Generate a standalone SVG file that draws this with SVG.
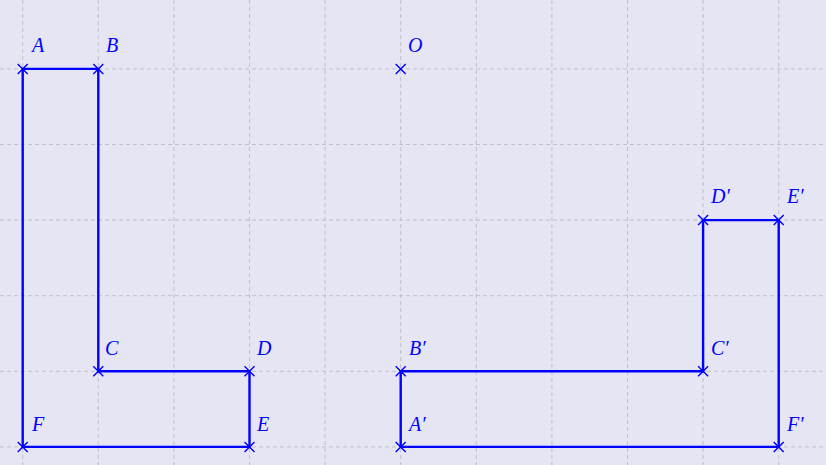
<svg xmlns="http://www.w3.org/2000/svg" width="826" height="465" viewBox="0 0 826 465">
<defs>
<style>
.grid{stroke:#c0c0c8;stroke-width:1;stroke-dasharray:4 3;fill:none}
.shape{stroke:#0000ff;stroke-width:2.4;fill:none;stroke-linejoin:miter}
.cross{stroke:#0000ff;stroke-width:1.4;fill:none}
.lbl{font-family:"Liberation Serif","DejaVu Serif",serif;font-style:italic;font-size:20px;fill:#0000ff}
</style>
<g id="x"><path class="cross" d="M-5,-5L5,5M-5,5L5,-5"/></g>
</defs>
<rect width="826" height="465" fill="#e5e5f4"/>
<g id="grid">
<path class="grid" d="M22.7,0V465M98.3,0V465M173.9,0V465M249.5,0V465M325.1,0V465M400.7,0V465M476.3,0V465M551.9,0V465M627.5,0V465M703.1,0V465M778.7,0V465"/>
<path class="grid" d="M0,68.9H826M0,144.5H826M0,220.1H826M0,295.7H826M0,371.3H826M0,446.9H826"/>
</g>
<g id="connectors">
<polygon class="shape" points="22.7,68.9 98.3,68.9 98.3,371.3 249.5,371.3 249.5,446.9 22.7,446.9"/>
<polygon class="shape" points="400.7,446.9 400.7,371.3 703.1,371.3 703.1,220.1 778.7,220.1 778.7,446.9"/>
</g>
<g id="A"><use href="#x" x="22.7" y="68.9"/><text class="lbl" x="32" y="52">A</text></g>
<g id="B"><use href="#x" x="98.3" y="68.9"/><text class="lbl" x="106" y="52">B</text></g>
<g id="C"><use href="#x" x="98.3" y="371.3"/><text class="lbl" x="105" y="355">C</text></g>
<g id="D"><use href="#x" x="249.5" y="371.3"/><text class="lbl" x="257" y="355">D</text></g>
<g id="E"><use href="#x" x="249.5" y="446.9"/><text class="lbl" x="257" y="431">E</text></g>
<g id="F"><use href="#x" x="22.7" y="446.9"/><text class="lbl" x="32" y="431">F</text></g>
<g id="O"><use href="#x" x="400.7" y="68.9"/><text class="lbl" x="408" y="52">O</text></g>
<g id="A1"><use href="#x" x="400.7" y="446.9"/><text class="lbl" x="409" y="431">A′</text></g>
<g id="B1"><use href="#x" x="400.7" y="371.3"/><text class="lbl" x="409" y="355">B′</text></g>
<g id="C1"><use href="#x" x="703.1" y="371.3"/><text class="lbl" x="711" y="355">C′</text></g>
<g id="D1"><use href="#x" x="703.1" y="220.1"/><text class="lbl" x="711" y="203">D′</text></g>
<g id="E1"><use href="#x" x="778.7" y="220.1"/><text class="lbl" x="787" y="203">E′</text></g>
<g id="F1"><use href="#x" x="778.7" y="446.9"/><text class="lbl" x="787" y="431">F′</text></g>
</svg>
